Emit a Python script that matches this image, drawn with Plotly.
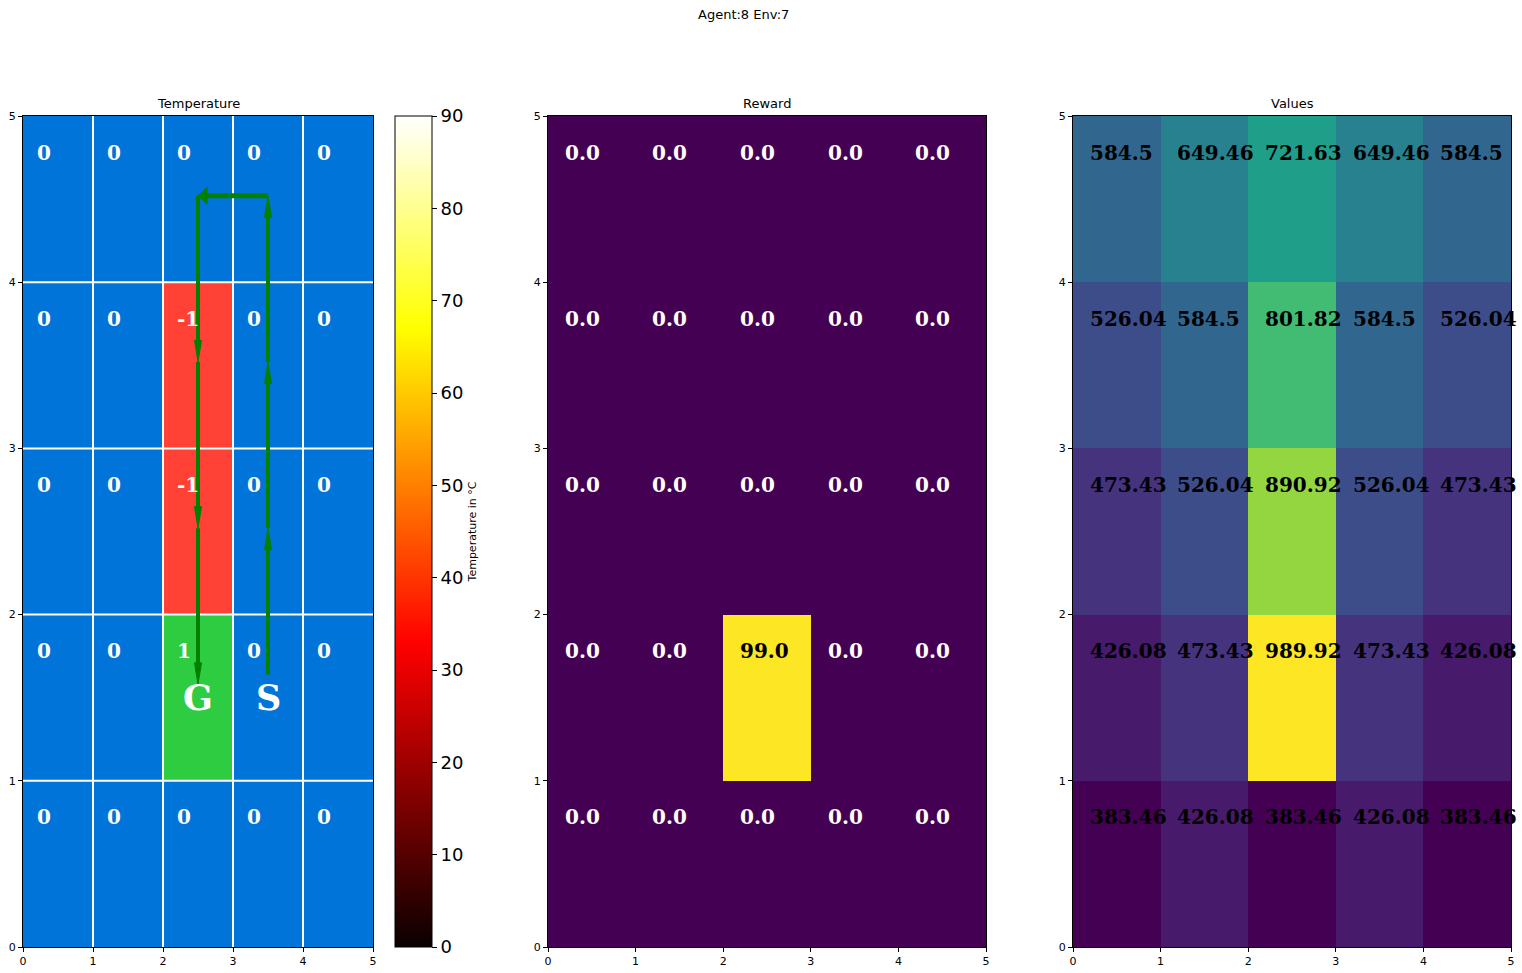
import plotly.graph_objects as go

# ---------------- data ----------------
SUPTITLE = "Agent:8 Env:7"
TITLES = ["Temperature", "Reward", "Values"]
X_CELLS = [0, 1, 2, 3, 4]
Y_CELLS = [0, 1, 2, 3, 4]
TICKS = [0, 1, 2, 3, 4, 5]

# rows listed top (y=4) to bottom (y=0)
TEMP_ROWS = [
    [0, 0, 0, 0, 0],
    [0, 0, -1, 0, 0],
    [0, 0, -1, 0, 0],
    [0, 0, 1, 0, 0],
    [0, 0, 0, 0, 0],
]
REWARD_ROWS = [
    [0.0, 0.0, 0.0, 0.0, 0.0],
    [0.0, 0.0, 0.0, 0.0, 0.0],
    [0.0, 0.0, 0.0, 0.0, 0.0],
    [0.0, 0.0, 99.0, 0.0, 0.0],
    [0.0, 0.0, 0.0, 0.0, 0.0],
]
VALUE_ROWS = [
    [584.5, 649.46, 721.63, 649.46, 584.5],
    [526.04, 584.5, 801.82, 584.5, 526.04],
    [473.43, 526.04, 890.92, 526.04, 473.43],
    [426.08, 473.43, 989.92, 473.43, 426.08],
    [383.46, 426.08, 383.46, 426.08, 383.46],
]
# agent trajectory (cell x, cell y) from start S to goal G
PATH_CELLS = [(3, 1), (3, 2), (3, 3), (3, 4), (2, 4), (2, 3), (2, 2), (2, 1)]
START_CELL = (3, 1)
GOAL_CELL = (2, 1)
CBAR_TICKS = [0, 10, 20, 30, 40, 50, 60, 70, 80, 90]
CBAR_RANGE = (0, 90)
CBAR_TITLE = "Temperature in °C"

# ---------------- style ----------------
W, H = 1522, 973
BLUE, RED, GREEN = "#0074D9", "#FF4136", "#2ECC40"
ARROW = "#008000"
SERIF = "DejaVu Serif"
SANS = "DejaVu Sans"
HOT = [[0.0, "rgb(10,0,0)"], [0.365, "rgb(255,0,0)"],
       [0.746, "rgb(255,255,0)"], [1.0, "rgb(255,255,255)"]]
AX_PX = [(23, 373), (548, 986), (1073, 1511)]
AX_Y_PX = (116, 947)
CBAR_PX = (395, 432)
TXT_DX, TXT_DY = 0.17, 0.78
HEAD_LEN, HEAD_W = 0.13, 0.10


def fx(p):
    return p / W


def fy(p):
    return 1 - p / H


def bottom_up(rows):
    return list(reversed(rows))


centers_x = [c + 0.5 for c in X_CELLS]
centers_y = [c + 0.5 for c in Y_CELLS]

fig = go.Figure()

# temperature grid (discrete colours)
fig.add_trace(go.Heatmap(
    z=bottom_up(TEMP_ROWS), x=centers_x, y=centers_y, zmin=-1, zmax=1,
    colorscale=[[0, RED], [1 / 3, RED], [1 / 3, BLUE], [2 / 3, BLUE], [2 / 3, GREEN], [1, GREEN]],
    showscale=False, hoverinfo="skip", xaxis="x", yaxis="y"))
# colorbar of the temperature scale
fig.add_trace(go.Scatter(
    x=[None], y=[None], mode="markers", xaxis="x", yaxis="y", showlegend=False,
    hoverinfo="skip",
    marker=dict(color=[CBAR_RANGE[0]], cmin=CBAR_RANGE[0], cmax=CBAR_RANGE[1],
                colorscale=HOT, showscale=True,
                colorbar=dict(
                    x=fx(CBAR_PX[0]), xanchor="left", xpad=0, ypad=0,
                    y=fy((AX_Y_PX[0] + AX_Y_PX[1]) / 2), yanchor="middle",
                    len=(AX_Y_PX[1] - AX_Y_PX[0]) / H, lenmode="fraction",
                    thickness=CBAR_PX[1] - CBAR_PX[0], thicknessmode="pixels",
                    outlinewidth=1, outlinecolor="black",
                    tickvals=CBAR_TICKS, ticks="outside", ticklen=5, tickwidth=1,
                    tickcolor="black",
                    tickfont=dict(family=SANS, size=18, color="black"),
                    title=dict(text=CBAR_TITLE, side="right",
                               font=dict(family=SANS, size=11, color="black"))))))
# reward
fig.add_trace(go.Heatmap(
    z=bottom_up(REWARD_ROWS), x=centers_x, y=centers_y, colorscale="Viridis",
    showscale=False, hoverinfo="skip", xaxis="x2", yaxis="y2"))
# values
fig.add_trace(go.Heatmap(
    z=bottom_up(VALUE_ROWS), x=centers_x, y=centers_y, colorscale="Viridis",
    showscale=False, hoverinfo="skip", xaxis="x3", yaxis="y3"))

annotations = []
shapes = []


def cell_texts(rows, xref, yref, fmt, color_fn):
    for r, row in enumerate(bottom_up(rows)):
        for c, v in enumerate(row):
            annotations.append(dict(
                x=X_CELLS[c] + TXT_DX, y=Y_CELLS[r] + TXT_DY, xref=xref, yref=yref,
                text=fmt(v), showarrow=False, xanchor="left", yanchor="middle",
                font=dict(family=SERIF, size=20, color=color_fn(v), weight="bold")))


cell_texts(TEMP_ROWS, "x", "y", lambda v: str(int(v)), lambda v: "white")
rmax = max(max(r) for r in REWARD_ROWS)
cell_texts(REWARD_ROWS, "x2", "y2", lambda v: str(round(v, 2)),
           lambda v: "black" if v > rmax / 2 else "white")
cell_texts(VALUE_ROWS, "x3", "y3", lambda v: str(round(v, 2)), lambda v: "black")

# S and G labels
for label, cell in (("G", GOAL_CELL), ("S", START_CELL)):
    annotations.append(dict(
        x=cell[0] + 0.5, y=cell[1] + 0.5, xref="x", yref="y", text=label,
        showarrow=False, xanchor="center", yanchor="middle",
        font=dict(family=SERIF, size=35, color="white", weight="bold")))

# white grid lines on the temperature panel
for k in TICKS[1:-1]:
    shapes.append(dict(type="line", xref="x", yref="y", x0=k, x1=k, y0=TICKS[0], y1=TICKS[-1],
                       line=dict(color="white", width=2), layer="above"))
    shapes.append(dict(type="line", xref="x", yref="y", y0=k, y1=k, x0=TICKS[0], x1=TICKS[-1],
                       line=dict(color="white", width=2), layer="above"))

# trajectory arrows
pts = [(cx + 0.5, cy + 0.52) for cx, cy in PATH_CELLS]
pts[0] = (pts[0][0], PATH_CELLS[0][1] + 0.64)
pts[-1] = (pts[-1][0], PATH_CELLS[-1][1] + 0.58)
for (x0, y0), (x1, y1) in zip(pts[:-1], pts[1:]):
    dx, dy = x1 - x0, y1 - y0
    n = (dx ** 2 + dy ** 2) ** 0.5
    ux, uy = dx / n, dy / n
    bx, by = x1 - ux * HEAD_LEN, y1 - uy * HEAD_LEN
    lw = 5 if abs(ux) > 0.5 else 4
    shapes.append(dict(type="line", xref="x", yref="y", x0=x0, y0=y0, x1=bx, y1=by,
                       line=dict(color=ARROW, width=lw), layer="above"))
    px_, py_ = -uy * HEAD_W / 2, ux * HEAD_W / 2
    path = (f"M {x1},{y1} L {bx + px_},{by + py_} L {bx - px_},{by - py_} Z")
    shapes.append(dict(type="path", xref="x", yref="y", path=path,
                       fillcolor=ARROW, line=dict(color=ARROW, width=1), layer="above"))

# titles
for i, t in enumerate(TITLES):
    annotations.append(dict(
        x=fx(sum(AX_PX[i]) / 2), y=fy(104), xref="paper", yref="paper", text=t,
        showarrow=False, xanchor="center", yanchor="middle",
        font=dict(family=SANS, size=13, color="black")))
annotations.append(dict(
    x=fx(743), y=fy(14), xref="paper", yref="paper", text=SUPTITLE, showarrow=False,
    xanchor="center", yanchor="middle", font=dict(family=SANS, size=13, color="black")))

axis_common = dict(range=[TICKS[0], TICKS[-1]], tickvals=TICKS, ticks="outside", ticklen=4,
                   tickwidth=1, tickcolor="black", showline=True, linecolor="black",
                   linewidth=1, mirror=True, showgrid=False, zeroline=False,
                   tickfont=dict(family=SANS, size=11, color="black"), automargin=False,
                   fixedrange=True)
layout_axes = {}
for i, (a, b) in enumerate(AX_PX):
    sfx = "" if i == 0 else str(i + 1)
    layout_axes["xaxis" + sfx] = dict(axis_common, domain=[fx(a), fx(b)], anchor="y" + sfx)
    layout_axes["yaxis" + sfx] = dict(axis_common, domain=[fy(AX_Y_PX[1]), fy(AX_Y_PX[0])],
                                      anchor="x" + sfx)

fig.update_layout(
    width=W, height=H, autosize=False, margin=dict(l=0, r=0, t=0, b=0, pad=0),
    paper_bgcolor="white", plot_bgcolor="white", template="none",
    showlegend=False, annotations=annotations, shapes=shapes, **layout_axes)

fig.write_html("out.html", config={"displayModeBar": False},
               post_script="document.body.style.margin='0px';")
